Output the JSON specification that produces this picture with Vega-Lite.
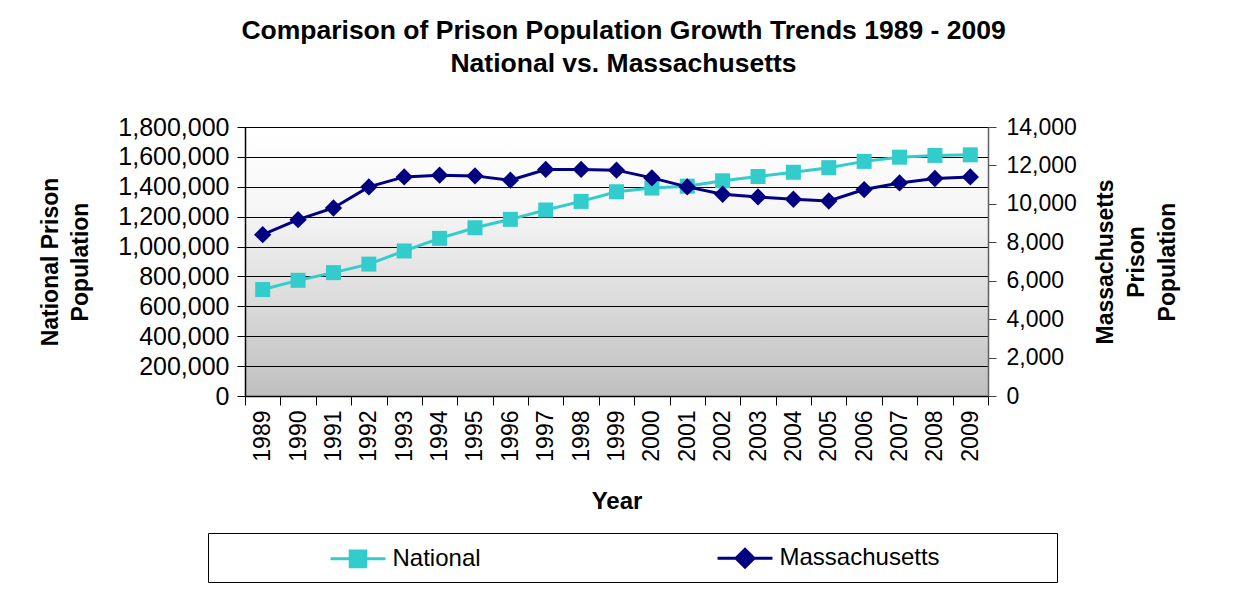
{
  "$schema": "https://vega.github.io/schema/vega-lite/v6.json",
  "width": 743,
  "height": 269,
  "autosize": "none",
  "padding": {"left": 245, "top": 127, "right": 256, "bottom": 202},
  "background": "white",
  "title": {
    "text": ["Comparison of Prison Population Growth Trends 1989 - 2009", "National vs. Massachusetts"],
    "font": "Liberation Sans",
    "fontSize": 26.5,
    "fontWeight": "bold",
    "lineHeight": 33,
    "color": "black",
    "anchor": "middle",
    "offset": 38,
    "dx": 7
  },
  "config": {
    "font": "Liberation Sans",
    "view": {
      "stroke": "#808080",
      "fill": {
        "gradient": "linear", "x1": 0, "y1": 0, "x2": 0, "y2": 1,
        "stops": [
          {"offset": 0, "color": "#ffffff"},
          {"offset": 0.3, "color": "#f6f6f6"},
          {"offset": 1, "color": "#bfbfbf"}
        ]
      }
    }
  },
  "data": {
    "values": [
      {"year": "1989", "series": "National", "value": 712364},
      {"year": "1990", "series": "National", "value": 773919},
      {"year": "1991", "series": "National", "value": 825559},
      {"year": "1992", "series": "National", "value": 882500},
      {"year": "1993", "series": "National", "value": 970444},
      {"year": "1994", "series": "National", "value": 1054702},
      {"year": "1995", "series": "National", "value": 1125874},
      {"year": "1996", "series": "National", "value": 1182169},
      {"year": "1997", "series": "National", "value": 1244554},
      {"year": "1998", "series": "National", "value": 1302019},
      {"year": "1999", "series": "National", "value": 1366721},
      {"year": "2000", "series": "National", "value": 1391261},
      {"year": "2001", "series": "National", "value": 1404032},
      {"year": "2002", "series": "National", "value": 1440144},
      {"year": "2003", "series": "National", "value": 1468601},
      {"year": "2004", "series": "National", "value": 1497100},
      {"year": "2005", "series": "National", "value": 1527929},
      {"year": "2006", "series": "National", "value": 1569945},
      {"year": "2007", "series": "National", "value": 1598245},
      {"year": "2008", "series": "National", "value": 1609759},
      {"year": "2009", "series": "National", "value": 1613740},
      {"year": "1989", "series": "Massachusetts", "value": 8395},
      {"year": "1990", "series": "Massachusetts", "value": 9178},
      {"year": "1991", "series": "Massachusetts", "value": 9785},
      {"year": "1992", "series": "Massachusetts", "value": 10882},
      {"year": "1993", "series": "Massachusetts", "value": 11404},
      {"year": "1994", "series": "Massachusetts", "value": 11493},
      {"year": "1995", "series": "Massachusetts", "value": 11456},
      {"year": "1996", "series": "Massachusetts", "value": 11231},
      {"year": "1997", "series": "Massachusetts", "value": 11790},
      {"year": "1998", "series": "Massachusetts", "value": 11790},
      {"year": "1999", "series": "Massachusetts", "value": 11754},
      {"year": "2000", "series": "Massachusetts", "value": 11352},
      {"year": "2001", "series": "Massachusetts", "value": 10882},
      {"year": "2002", "series": "Massachusetts", "value": 10500},
      {"year": "2003", "series": "Massachusetts", "value": 10360},
      {"year": "2004", "series": "Massachusetts", "value": 10239},
      {"year": "2005", "series": "Massachusetts", "value": 10150},
      {"year": "2006", "series": "Massachusetts", "value": 10745},
      {"year": "2007", "series": "Massachusetts", "value": 11090},
      {"year": "2008", "series": "Massachusetts", "value": 11320},
      {"year": "2009", "series": "Massachusetts", "value": 11404}
    ]
  },
  "encoding": {
    "x": {
      "field": "year",
      "type": "ordinal",
      "scale": {"type": "band", "paddingInner": 0, "paddingOuter": 0},
      "axis": {
        "title": "Year",
        "titleFont": "Liberation Sans",
        "titleFontSize": 24,
        "titleFontWeight": "bold",
        "titleColor": "black",
        "titlePadding": 28,
        "labelAngle": 270,
        "labelFont": "Liberation Sans",
        "labelFontSize": 23,
        "labelColor": "black",
        "labelPadding": 5,
        "tickBand": "extent",
        "tickSize": 9,
        "tickColor": "black",
        "domainColor": "black",
        "domainWidth": 1.5,
        "grid": false
      }
    },
    "color": {
      "field": "series",
      "type": "nominal",
      "scale": {"domain": ["National", "Massachusetts"], "range": ["#33CCCC", "#000080"]},
      "legend": {
        "orient": "none",
        "legendX": -37,
        "legendY": 406,
        "direction": "horizontal",
        "title": null,
        "labelFont": "Liberation Sans",
        "labelFontSize": 24,
        "labelColor": "black",
        "labelLimit": 400,
        "strokeColor": "black",
        "fillColor": "white",
        "padding": 8.5,
        "symbolSize": 900,
        "symbolOffset": 125,
        "labelOffset": 18,
        "columnPadding": 122,
        "encode": {
          "symbols": {
            "update": {
              "shape": {"signal": "datum.value === 'National' ? 'M-1.83,0H1.83M-0.52,-0.52H0.52V0.52H-0.52Z' : 'M-1.83,0H1.83M0,-0.6L0.6,0L0,0.6L-0.6,0ZM19.83,0'"},
              "fill": {"scale": "color", "field": "value"},
              "stroke": {"scale": "color", "field": "value"},
              "strokeWidth": {"value": 3},
              "opacity": {"value": 1},
              "fillOpacity": {"value": 1}
            }
          }
        }
      }
    }
  },
  "layer": [
    {
      "transform": [{"filter": "datum.series === 'National'"}],
      "encoding": {
        "y": {
          "field": "value",
          "type": "quantitative",
          "scale": {"domain": [0, 1800000], "nice": false},
          "axis": {
            "orient": "left",
            "title": ["National Prison", "Population"],
            "titleFont": "Liberation Sans",
            "titleFontSize": 23,
            "titleFontWeight": "bold",
            "titleColor": "black",
            "titleLineHeight": 30,
            "titlePadding": 25,
            "values": [0, 200000, 400000, 600000, 800000, 1000000, 1200000, 1400000, 1600000, 1800000],
            "format": ",.0f",
            "labelFont": "Liberation Sans",
            "labelFontSize": 25,
            "labelColor": "black",
            "labelPadding": 8,
            "tickSize": 8,
            "tickColor": "black",
            "domainColor": "black",
            "domainWidth": 1.5,
            "grid": true,
            "gridColor": "black",
            "gridWidth": 1
          }
        }
      },
      "layer": [
        {"mark": {"type": "line", "strokeWidth": 3}},
        {"mark": {"type": "point", "shape": "square", "filled": true, "size": 225, "opacity": 1}}
      ]
    },
    {
      "transform": [{"filter": "datum.series === 'Massachusetts'"}],
      "encoding": {
        "y": {
          "field": "value",
          "type": "quantitative",
          "scale": {"domain": [0, 14000], "nice": false},
          "axis": {
            "orient": "right",
            "title": ["Massachusetts", "Prison", "Population"],
            "titleFont": "Liberation Sans",
            "titleFontSize": 23,
            "titleFontWeight": "bold",
            "titleColor": "black",
            "titleLineHeight": 31,
            "titleAngle": 270,
            "titlePadding": -21,
            "values": [0, 2000, 4000, 6000, 8000, 10000, 12000, 14000],
            "format": ",.0f",
            "labelFont": "Liberation Sans",
            "labelFontSize": 23,
            "labelColor": "black",
            "labelPadding": 10,
            "tickSize": 8,
            "tickColor": "#404040",
            "domainColor": "#606060",
            "domainWidth": 1.5,
            "grid": false
          }
        }
      },
      "layer": [
        {"mark": {"type": "line", "strokeWidth": 3}},
        {"mark": {"type": "point", "shape": "diamond", "filled": true, "size": 300, "opacity": 1}}
      ]
    }
  ],
  "resolve": {"scale": {"y": "independent"}, "axis": {"y": "independent"}}
}
